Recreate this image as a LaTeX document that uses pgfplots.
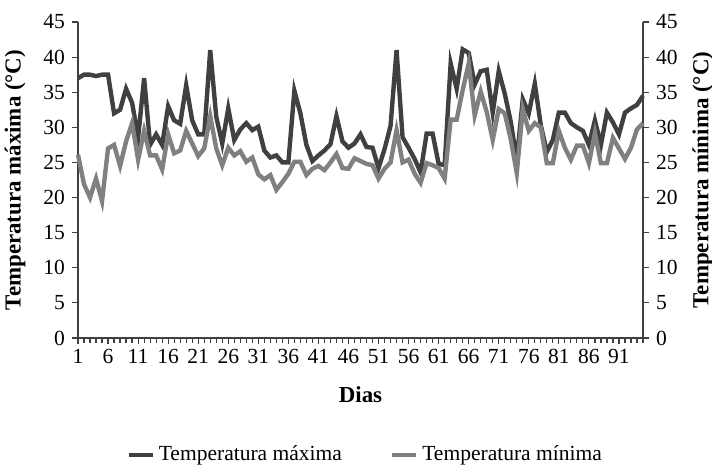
\documentclass[border=0pt]{standalone}
\usepackage{fontspec}
\setmainfont{Liberation Serif}
\usepackage{pgfplots}
\usepackage{pgfplotstable}
\pgfplotsset{compat=1.18}

\definecolor{maxc}{RGB}{64,64,64}
\definecolor{minc}{RGB}{128,128,128}
\definecolor{axc}{RGB}{64,64,64}

\pgfplotstableread{
dia tmax tmin
1 37 26.1
2 37.5 21.9
3 37.5 20
4 37.3 22.7
5 37.5 19.5
6 37.5 27
7 32 27.5
8 32.5 24.5
9 35.5 28
10 33.5 30.6
11 28.5 25.4
12 37 29.5
13 27.5 26
14 29 26
15 27.5 24
16 33 29
17 31 26.3
18 30.5 26.7
19 36 29.5
20 31 27.7
21 29 25.9
22 29 27
23 41 31.6
24 31.5 27
25 27.7 24.6
26 32.7 27.1
27 28.2 26
28 29.7 26.6
29 30.6 25.1
30 29.6 25.7
31 30.1 23.3
32 26.7 22.6
33 25.7 23.2
34 26 21.1
35 25 22.2
36 25 23.4
37 35.2 25.1
38 32 25.1
39 27.5 23.2
40 25.2 24.1
41 26 24.5
42 26.7 23.9
43 27.6 25
44 31.6 26.2
45 28 24.2
46 27.1 24.1
47 27.7 25.6
48 29 25.2
49 27.2 24.8
50 27.1 24.6
51 24.2 22.7
52 26.9 24.1
53 30.2 25
54 41 29.6
55 28.6 25
56 27.1 25.4
57 25.5 23.4
58 23.6 22.1
59 29.1 24.9
60 29.1 24.6
61 24.8 24.2
62 24.6 22.7
63 39.1 31.1
64 35.5 31.1
65 41.1 35.3
66 40.6 39.1
67 36.1 31.7
68 38 35.1
69 38.2 32.2
70 32.1 28.2
71 38 32.6
72 34.8 32
73 30.8 28.3
74 25.3 23.5
75 34 32.6
76 32 29.5
77 36.2 30.6
78 30.3 30
79 26.5 24.9
80 28.2 24.9
81 32.1 29.5
82 32.1 27.1
83 30.6 25.4
84 30 27.4
85 29.5 27.4
86 27.5 24.9
87 31 29.2
88 27.5 24.9
89 32.1 24.9
90 30.7 28.5
91 29 27
92 32.1 25.5
93 32.7 27.1
94 33.2 29.7
95 34.5 30.6
}\dados

\pgfplotsset{
  base/.style={
    width=282.5bp, height=158bp, scale only axis,
    xmin=1, xmax=95, ymin=0, ymax=45,
    ytick={0,5,...,45},
    tick align=outside,
    major tick length=3bp, minor tick length=2.5bp,
    axis line style={axc, line width=0.8bp},
    tick style={axc, line width=0.6bp},
    /pgf/number format/assume math mode=true,
    ticklabel style={font=\fontsize{10.8}{13}\selectfont},
    label style={font=\fontsize{11.5}{14}\selectfont\bfseries},
    clip=false,
  },
}

\begin{document}
\begin{tikzpicture}
\begin{axis}[base, name=main,
  axis y line*=left, axis x line*=bottom,
  xtick={1,6,...,91},
  minor xtick={1,...,95},
  xticklabel style={yshift=1bp},
  ylabel={Temperatura máxima (°C)},
  ylabel style={at={(axis description cs:-0.1115,0.5)}, anchor=center},
  xlabel={Dias},
  xlabel style={at={(axis description cs:0.5,-0.18)}, anchor=center},
  legend style={at={(axis description cs:0.51,-0.37)}, anchor=center,
    draw=none, fill=none, font=\fontsize{10.8}{13}\selectfont,
    legend columns=2, column sep=0bp,
    /tikz/every even column/.append style={column sep=22bp}},
  legend cell align=left,
  legend image code/.code={\draw[#1] (0bp,0bp) -- (12bp,0bp);},
]
\coordinate (bl) at (rel axis cs:0,0);
\addplot[maxc, line width=2.2bp] table[x=dia, y=tmax] {\dados};
\addlegendentry{Temperatura máxima}
\addlegendimage{minc, line width=2.2bp}
\addlegendentry{Temperatura mínima}
\end{axis}
\begin{axis}[base,
  axis y line*=right, axis x line=none,
  ylabel={Temperatura mínima (°C)},
  ylabel style={at={(axis description cs:1.106,0.5)}, anchor=center, rotate=0},
]
\addplot[minc, line width=2.2bp] table[x=dia, y=tmin] {\dados};
\end{axis}
\pgfresetboundingbox
\path ([xshift=-39bp,yshift=-63.5bp]bl) rectangle ([xshift=317bp,yshift=169bp]bl);
\end{tikzpicture}
\end{document}
